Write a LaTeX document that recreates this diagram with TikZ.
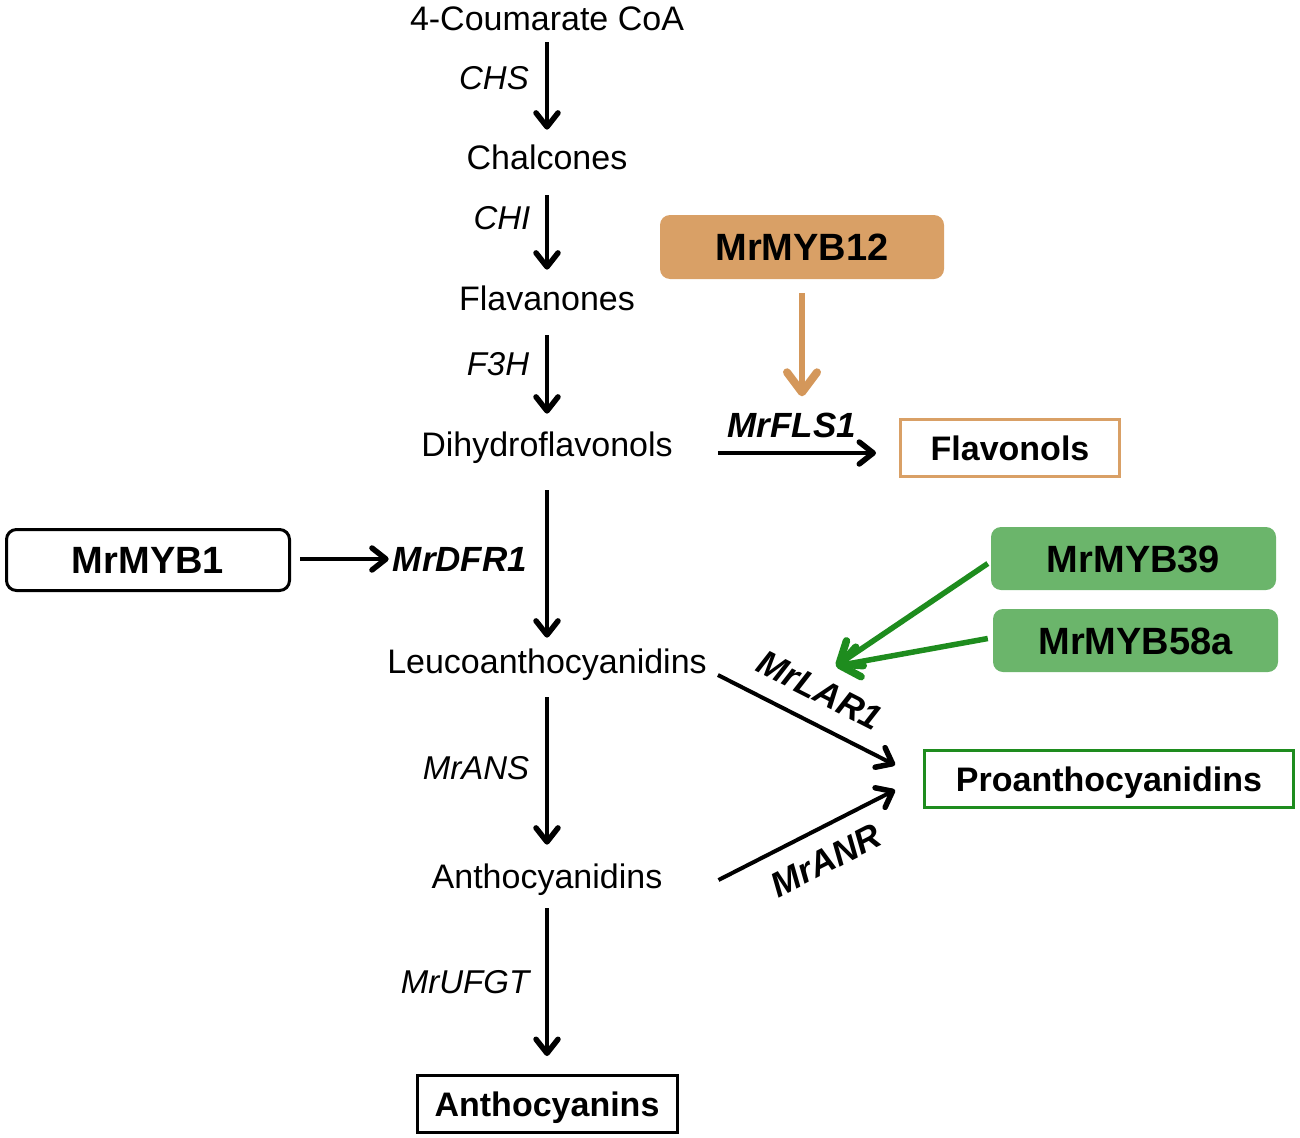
\documentclass[tikz,border=0pt]{standalone}
\usepackage{fontspec}
\setmainfont{Liberation Sans}
\usetikzlibrary{arrows.meta}
\definecolor{orfill}{HTML}{D9A066}
\definecolor{orline}{HTML}{D4975A}
\definecolor{grfill}{HTML}{6BB56B}
\definecolor{grline}{HTML}{1E8C1E}
\begin{document}
\begin{tikzpicture}[x=1pt,y=-1pt,
  txt/.style={inner sep=0pt, text height=24.3pt, text depth=0pt, font=\fontsize{34}{40}\selectfont},
  enz/.style={inner sep=0pt, text height=23.6pt, text depth=0pt, font=\fontsize{33}{40}\selectfont\itshape},
  benz/.style={inner sep=0pt, text height=25pt, text depth=0pt, font=\fontsize{35}{42}\selectfont\bfseries\itshape},
  mybbox/.style={rounded corners=10pt, inner sep=0pt, text height=27.2pt, text depth=0pt, font=\fontsize{38}{44}\selectfont\bfseries},
  endbox/.style={draw, line width=3pt, minimum height=57pt, inner sep=0pt, text height=24.3pt, text depth=0pt, font=\fontsize{34}{40}\selectfont\bfseries},
  arr/.style={line width=4pt, -{Straight Barb[length=14pt,width=22pt,line width=5.5pt,round]}},
  oarr/.style={line width=6pt, orline, -{Straight Barb[length=20pt,width=30pt,line width=8pt,round]}},
  garr/.style={line width=5.5pt, grline, -{Straight Barb[length=19pt,width=30pt,line width=7.5pt,round]}},
]
\useasboundingbox (0,0) rectangle (1300,1137);

% main column
\node[txt] (coa)  at (547,18)  {4-Coumarate CoA};
\node[txt] (chal) at (547,157) {Chalcones};
\node[txt] (flav) at (547,298) {Flavanones};
\node[txt] (dihy) at (547,444) {Dihydroflavonols};
\node[txt] (leuc) at (547,661) {Leucoanthocyanidins};
\node[txt] (anth) at (547,876) {Anthocyanidins};
\node[endbox, minimum width=260pt] (acy) at (547,1104) {Anthocyanins};

% enzyme labels
\node[enz] (chs) at (494,78) {CHS};
\node[enz] (chi) at (502,218) {CHI};
\node[enz] (f3h) at (498,364) {F3H};
\node[benz] (dfr) at (460,559) {MrDFR1};
\node[enz] (ans) at (476,768) {MrANS};
\node[enz] (ufgt) at (465,982) {MrUFGT};

% main arrows
\draw[arr, shorten <=12pt, shorten >=15pt] (coa) -- (chal);
\draw[arr, shorten <=26pt, shorten >=16pt] (chal) -- (flav);
\draw[arr, shorten <=25pt, shorten >=18pt] (flav) -- (dihy);
\draw[arr, shorten <=34pt, shorten >=11pt] (dihy) -- (leuc);
\draw[arr, shorten <=24pt, shorten >=19pt] (leuc) -- (anth);
\draw[arr, shorten <=20pt, shorten >=18pt] (anth) -- (acy);

% MYB12 / flavonols branch
\node[mybbox, fill=orfill, minimum width=284pt, minimum height=64pt] (myb12) at (802,247) {MrMYB12};
\node[endbox, draw=orfill, minimum width=219pt] (fvol) at (1010,448) {Flavonols};
\node[benz] (fls) at (792,425) {MrFLS1};
\draw[oarr, shorten <=14pt, shorten >=16pt] (myb12) -- (myb12 |- fls.north);
\draw[arr] ([xshift=45pt,yshift=-9pt]dihy.east) -- ([xshift=-23pt,yshift=-5pt]fvol.west);

% MYB1
\node[mybbox, draw, line width=3pt, minimum width=283pt, minimum height=61pt] (myb1) at (148,560) {MrMYB1};
\draw[arr, shorten <=9pt, shorten >=4pt] (myb1.east |- dfr) -- (dfr);

% MYB39 / MYB58a / proanthocyanidins
\node[mybbox, fill=grfill, minimum width=285pt, minimum height=63pt] (myb39) at (1133.5,558.5) {MrMYB39};
\node[mybbox, fill=grfill, minimum width=285pt, minimum height=63pt] (myb58) at (1135.5,640.5) {MrMYB58a};
\node[endbox, draw=grline, minimum width=369pt] (pro) at (1109,779) {Proanthocyanidins};
\coordinate (lartip) at (836,666);
\draw[garr] ([xshift=-3pt,yshift=-5pt]myb39.west) -- (lartip);
\draw[garr] ([xshift=-5pt,yshift=2pt]myb58.west) -- (lartip);

\node[benz, rotate=-27] (lar) at (820,690) {MrLAR1};
\node[benz, rotate=27] (anr) at (826,860) {MrANR};
\draw[arr] ([xshift=11pt,yshift=-14pt]leuc.east) -- ([xshift=-28pt,yshift=14pt]pro.west);
\draw[arr] ([xshift=56pt,yshift=-4pt]anth.east) -- ([xshift=-28pt,yshift=-11pt]pro.west);
\end{tikzpicture}
\end{document}
